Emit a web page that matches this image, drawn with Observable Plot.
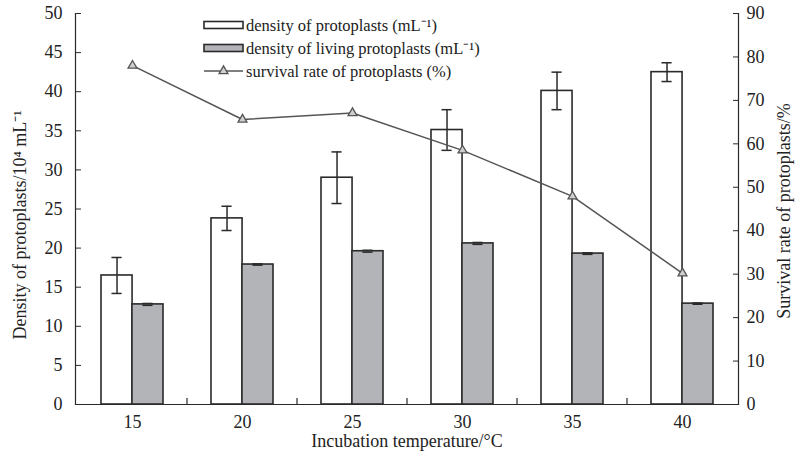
<!DOCTYPE html>
<html>
<head>
<meta charset="utf-8">
<script src="https://cdn.jsdelivr.net/npm/d3@7"></script>
<script src="https://cdn.jsdelivr.net/npm/@observablehq/plot@0.6"></script>
<style>
  html, body { margin: 0; padding: 0; background: #fff; }
  #wrap { position: relative; width: 795px; height: 452px; font-family: "Liberation Serif", serif; }
  #legend { position: absolute; left: 0; top: 0; }
</style>
</head>
<body>
<div id="wrap"></div>
<script>
// ---- data ----
const temps = [15, 20, 25, 30, 35, 40];
const totalDensity = [16.5, 23.8, 29.0, 35.1, 40.1, 42.5];
const totalErr = [2.3, 1.55, 3.3, 2.6, 2.4, 1.2];
const livingDensity = [12.8, 17.9, 19.6, 20.6, 19.3, 12.9];
const livingErr = [0.12, 0.08, 0.12, 0.12, 0.1, 0.08];
const survivalRate = [78.0, 65.6, 67.1, 58.5, 47.9, 30.2];
const leftTicks = [0, 5, 10, 15, 20, 25, 30, 35, 40, 45, 50];
const rightTicks = [0, 10, 20, 30, 40, 50, 60, 70, 80, 90];
const legendLabels = [
  "density of protoplasts (mL\u207B\u00B9)",
  "density of living protoplasts (mL\u207B\u00B9)",
  "survival rate of protoplasts (%)"
];
const xTitle = "Incubation temperature/\u00B0C";
const yTitle = "Density of protoplasts/10\u2074 mL\u207B\u00B9";
const y2Title = "Survival rate of protoplasts/%";

const leftMax = 50, rightMax = 90;
const toLeft = v => v * leftMax / rightMax;

const rows = temps.map((t, i) => ({
  t, total: totalDensity[i], te: totalErr[i],
  living: livingDensity[i], le: livingErr[i],
  rate: toLeft(survivalRate[i])
}));

const ink = "#2a2a2a";
const grayFill = "#b3b4b8";
const lineColor = "#555";
const fs = 18;
const legendFs = 16.5;

const W = 795, H = 452;
const mL = 75, mR = 57, mT = 13, mB = 48;
const step = (W - mL - mR) / temps.length;
const pInner = 0.44;
const bw = step * (1 - pInner);
const half = bw / 2;
const capHalf = 5;

const chart = Plot.plot({
  width: W, height: H,
  marginLeft: mL, marginRight: mR, marginTop: mT, marginBottom: mB,
  style: { fontFamily: "'Liberation Serif', serif", fontSize: fs + "px", color: "#222", background: "#fff" },
  x: { type: "band", domain: temps, paddingInner: pInner, paddingOuter: pInner / 2, label: null },
  y: { domain: [0, leftMax], label: null },
  marks: [
    Plot.barY(rows, { x: "t", y: "total", insetRight: half, fill: "white", stroke: ink, strokeWidth: 1.6 }),
    Plot.barY(rows, { x: "t", y: "living", insetLeft: half, fill: grayFill, stroke: ink, strokeWidth: 1.6 }),
    // error bars, total
    Plot.ruleX(rows, { x: "t", y1: d => d.total - d.te, y2: d => d.total + d.te, dx: -half / 2, stroke: ink, strokeWidth: 1.5 }),
    Plot.tickY(rows, { x: "t", y: d => d.total - d.te, insetLeft: half / 2 - capHalf, insetRight: half * 1.5 - capHalf, stroke: ink, strokeWidth: 1.5 }),
    Plot.tickY(rows, { x: "t", y: d => d.total + d.te, insetLeft: half / 2 - capHalf, insetRight: half * 1.5 - capHalf, stroke: ink, strokeWidth: 1.5 }),
    // error bars, living
    Plot.tickY(rows, { x: "t", y: d => d.living - d.le, insetLeft: half * 1.5 - capHalf, insetRight: half / 2 - capHalf, stroke: ink, strokeWidth: 1.5 }),
    Plot.tickY(rows, { x: "t", y: d => d.living + d.le, insetLeft: half * 1.5 - capHalf, insetRight: half / 2 - capHalf, stroke: ink, strokeWidth: 1.5 }),
    // survival line
    Plot.line(rows, { x: "t", y: "rate", stroke: lineColor, strokeWidth: 1.5 }),
    Plot.dot(rows, { x: "t", y: "rate", symbol: "triangle", r: 3.3, fill: "#cfcfcf", stroke: lineColor, strokeWidth: 1.3 }),
    // frame lines
    Plot.frame({ anchor: "left", stroke: ink, strokeWidth: 1.2 }),
    Plot.frame({ anchor: "right", stroke: ink, strokeWidth: 1.2 }),
    Plot.frame({ anchor: "bottom", stroke: ink, strokeWidth: 1.2 }),
    // axes
    Plot.axisY(leftTicks, { anchor: "left", tickSize: -6, tickPadding: 19, stroke: ink, fill: "#222", fontSize: fs, label: null }),
    Plot.axisY(rightTicks.map(toLeft), { anchor: "right", tickSize: -6, tickPadding: 14, tickFormat: d => Math.round(d * rightMax / leftMax), stroke: ink, fill: "#222", fontSize: fs, label: null }),
    Plot.axisX({ anchor: "bottom", tickSize: 0, tickPadding: 11, fill: "#222", fontSize: fs, label: null }),
    // titles
    Plot.text([yTitle], { frameAnchor: "left", textAnchor: "middle", dx: -55, dy: 16, rotate: -90, fontSize: fs, fill: "#222" }),
    Plot.text([y2Title], { frameAnchor: "right", textAnchor: "middle", dx: 46, dy: 2, rotate: -90, fontSize: fs, fill: "#222" }),
    Plot.text([xTitle], { frameAnchor: "bottom", dy: 42, fontSize: fs, fill: "#222" })
  ]
});

// group-boundary ticks on the x axis, using the chart's x scale
const xs = chart.scale("x");
const svg = d3.select(chart);
const yBase = H - mB;
for (let i = 0; i < temps.length - 1; i++) {
  const cx = xs.apply(temps[i]) + xs.bandwidth + (xs.step - xs.bandwidth) / 2;
  svg.append("line").attr("x1", cx).attr("x2", cx).attr("y1", yBase).attr("y2", yBase - 6)
    .attr("stroke", ink).attr("stroke-width", 1.2);
}

document.getElementById("wrap").appendChild(chart);

// legend overlay
const lg = d3.select("#wrap").append("svg").attr("id", "legend")
  .attr("width", W).attr("height", 90);
const lx = 204, lw = 39, ly = [25, 48, 71];
lg.append("rect").attr("x", lx).attr("y", ly[0] - 3.5).attr("width", lw).attr("height", 7)
  .attr("fill", "white").attr("stroke", ink).attr("stroke-width", 1.6);
lg.append("rect").attr("x", lx).attr("y", ly[1] - 3.5).attr("width", lw).attr("height", 7)
  .attr("fill", grayFill).attr("stroke", ink).attr("stroke-width", 1.6);
lg.append("line").attr("x1", lx).attr("x2", lx + lw).attr("y1", ly[2]).attr("y2", ly[2])
  .attr("stroke", lineColor).attr("stroke-width", 1.5);
lg.append("path").attr("d", d3.symbol(d3.symbolTriangle, Math.PI * 3.3 * 3.3)())
  .attr("transform", `translate(${lx + lw / 2},${ly[2]})`)
  .attr("fill", "#cfcfcf").attr("stroke", lineColor).attr("stroke-width", 1.3);
legendLabels.forEach((s, i) => {
  lg.append("text").attr("x", lx + lw + 3).attr("y", ly[i]).attr("dy", "0.35em")
    .attr("font-family", "'Liberation Serif', serif").attr("font-size", legendFs).attr("fill", "#222").text(s);
});
</script>
</body>
</html>
